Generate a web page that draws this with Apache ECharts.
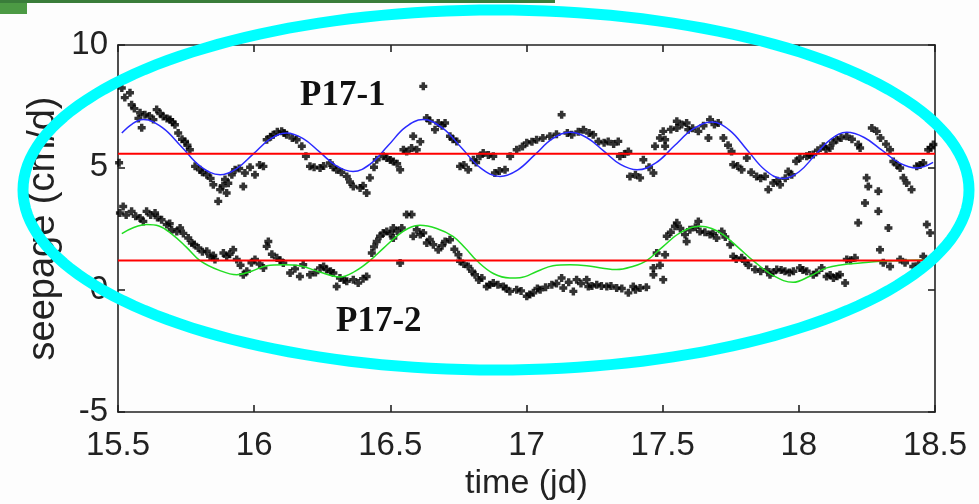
<!DOCTYPE html>
<html><head><meta charset="utf-8">
<script src="https://cdn.jsdelivr.net/npm/echarts@6/dist/echarts.min.js"></script>
<style>html,body{margin:0;padding:0;background:#fdfdfd}#c{width:979px;height:504px}</style>
</head><body><div id="c"></div>
<script>
// ---- data ----
const xLabel = 'time (jd)';
const yLabel = 'seepage (cm/d)';
const seriesNames = ['P17-1', 'P17-2'];
const meanLevels = [5.56, 1.19];

const p171Points = [[15.504,5.19],[15.514,8.24],[15.544,8.05],[15.550,7.56],[15.581,7.23],[15.587,6.62],[15.599,7.15],[15.630,6.95],[15.642,7.36],[15.666,7.08],[15.691,6.95],[15.709,6.74],[15.721,6.40],[15.746,6.06],[15.764,5.72],[15.783,5.04],[15.801,4.90],[15.826,4.70],[15.850,4.29],[15.875,4.09],[15.868,3.61],[15.893,4.50],[15.899,3.95],[15.918,4.70],[15.930,4.90],[15.960,4.22],[15.966,4.77],[16.003,4.70],[16.034,5.04],[16.046,6.13],[16.070,6.33],[16.101,6.47],[16.119,6.33],[16.156,6.13],[16.175,5.86],[16.205,5.04],[16.242,4.97],[16.278,5.18],[16.303,4.90],[16.340,4.63],[16.364,4.22],[16.389,4.16],[16.413,3.95],[16.425,4.57],[16.450,5.31],[16.474,5.45],[16.487,5.38],[16.511,5.24],[16.536,4.90],[16.548,5.72],[16.578,5.79],[16.584,6.27],[16.597,5.72],[16.621,8.31],[16.634,7.02],[16.664,6.54],[16.676,6.81],[16.701,6.81],[16.719,6.27],[16.744,6.06],[16.756,5.04],[16.786,4.90],[16.805,5.31],[16.829,5.45],[16.841,5.59],[16.878,5.45],[16.884,4.77],[16.921,4.90],[16.964,5.72],[17.001,6.00],[17.037,6.13],[17.086,6.27],[17.129,7.15],[17.166,6.33],[17.209,6.54],[17.245,6.33],[17.264,6.06],[17.300,6.06],[17.337,6.06],[17.343,5.45],[17.374,5.65],[17.380,4.63],[17.417,4.57],[17.429,5.31],[17.466,4.77],[17.472,5.86],[17.502,6.47],[17.509,6.13],[17.552,6.88],[17.552,6.61],[17.509,5.86],[17.588,6.81],[17.594,6.54],[17.631,6.47],[17.674,6.95],[17.668,6.20],[17.704,6.81],[17.723,6.20],[17.753,5.65],[17.759,5.11],[17.790,4.90],[17.809,5.38],[17.845,4.63],[17.876,4.63],[17.888,4.09],[17.906,4.36],[17.931,4.29],[17.961,4.83],[17.974,4.70],[18.004,5.38],[18.029,5.45],[18.053,5.52],[18.090,5.86],[18.114,5.79],[18.139,6.13],[18.176,6.27],[18.218,5.93],[18.225,5.79],[18.268,6.61],[18.286,6.47],[18.335,5.72],[18.347,5.24],[18.372,4.97],[18.384,4.57],[18.396,4.36],[18.414,4.09],[18.433,5.04],[18.457,5.18],[18.475,5.72],[18.494,5.93],[18.249,4.57],[18.255,4.22],[18.243,3.54],[18.218,2.73],[18.292,3.20],[18.329,2.52],[18.470,2.66],[18.482,2.32],[18.292,4.02],
  [15.525,7.85],[15.560,7.40],[15.575,7.00],[15.615,7.10],[15.655,7.20],[15.680,7.00],[15.700,6.85],[15.735,6.15],[15.755,5.90],[15.810,4.80],[15.840,4.55],[15.885,4.25],[15.905,4.35],[15.945,4.95],[15.985,5.00],[16.020,5.10],[16.060,6.25],[16.085,6.45],[16.110,6.40],[16.140,6.20],[16.190,5.45],[16.220,5.00],[16.255,5.05],[16.290,5.00],[16.320,4.80],[16.352,4.40],[16.400,4.25],[16.440,5.00],[16.500,5.30],[16.525,5.15],[16.560,5.65],[16.610,6.05],[16.645,6.90],[16.690,6.70],[16.730,6.15],[16.770,5.10],[16.815,5.20],[16.860,5.50],[16.900,4.85],[16.940,5.45],[16.985,5.85],[17.020,6.05],[17.060,6.20],[17.110,6.35],[17.150,6.40],[17.190,6.45],[17.230,6.40],[17.285,6.00],[17.320,5.95],[17.360,5.55],[17.400,4.70],[17.450,5.00],[17.490,6.20],[17.530,6.55],[17.570,6.75],[17.610,6.60],[17.650,6.70],[17.690,6.75],[17.740,5.90],[17.775,5.05],[17.825,4.80],[17.860,4.55],[17.920,4.45],[17.950,4.55],[17.990,5.25],[18.040,5.50],[18.070,5.70],[18.100,5.75],[18.125,6.00],[18.155,6.20],[18.195,6.15],[18.300,6.20],[18.320,5.95],[18.360,5.10],[18.445,5.10],[18.485,5.80]];

const p172Points = [[15.507,3.13],[15.519,3.40],[15.550,3.20],[15.581,2.93],[15.593,2.79],[15.605,3.20],[15.636,3.13],[15.660,2.86],[15.679,2.66],[15.697,2.45],[15.716,2.38],[15.728,2.52],[15.758,2.11],[15.771,1.91],[15.795,1.70],[15.826,1.57],[15.838,1.36],[15.856,1.23],[15.887,1.50],[15.899,1.36],[15.923,1.63],[15.936,1.23],[15.960,0.61],[15.973,0.75],[16.003,1.23],[16.034,0.89],[16.052,1.97],[16.046,1.77],[16.083,1.30],[16.107,1.09],[16.132,0.68],[16.168,0.54],[16.180,1.02],[16.205,0.61],[16.242,0.89],[16.266,0.82],[16.291,0.68],[16.303,0.13],[16.315,0.48],[16.340,0.34],[16.364,0.41],[16.382,0.27],[16.413,0.54],[16.432,1.50],[16.450,1.97],[16.462,2.18],[16.487,2.38],[16.511,2.52],[16.474,2.32],[16.511,2.11],[16.542,2.52],[16.560,3.07],[16.578,3.07],[16.584,2.18],[16.597,2.45],[16.621,2.32],[16.634,1.91],[16.658,1.84],[16.676,1.63],[16.701,1.97],[16.719,2.04],[16.536,1.09],[16.750,1.43],[16.756,1.16],[16.786,0.95],[16.811,0.61],[16.836,0.48],[16.854,0.13],[16.878,0.27],[16.915,0.13],[16.939,-0.07],[16.964,0.00],[17.001,-0.27],[17.025,-0.13],[17.050,0.00],[17.093,0.20],[17.129,0.48],[17.135,0.07],[17.172,-0.07],[17.184,0.41],[17.221,0.41],[17.227,0.13],[17.258,0.20],[17.295,0.13],[17.331,0.07],[17.374,-0.13],[17.392,0.13],[17.417,0.07],[17.466,0.61],[17.466,0.89],[17.502,0.41],[17.478,1.50],[17.509,1.43],[17.515,2.18],[17.545,2.59],[17.552,2.73],[17.582,2.25],[17.588,1.97],[17.631,2.79],[17.637,2.38],[17.674,2.25],[17.698,2.11],[17.717,2.38],[17.748,1.84],[17.759,1.36],[17.790,1.30],[17.802,1.16],[17.839,0.82],[17.882,0.82],[17.894,0.61],[17.919,0.82],[17.949,0.75],[17.980,0.75],[18.004,0.89],[18.029,0.75],[18.053,0.61],[18.084,0.89],[18.102,0.54],[18.127,0.48],[18.151,0.61],[18.170,0.27],[18.176,1.23],[18.206,1.30],[18.298,1.63],[18.335,0.95],[18.372,1.23],[18.420,0.95],[18.457,1.36],
  [15.530,3.05],[15.565,3.00],[15.620,3.05],[15.645,2.95],[15.690,2.70],[15.740,2.30],[15.780,1.85],[15.810,1.55],[15.850,1.40],[15.910,1.45],[15.950,1.00],[15.990,1.10],[16.020,1.05],[16.065,1.45],[16.095,1.20],[16.150,0.85],[16.225,0.70],[16.255,0.95],[16.280,0.75],[16.330,0.40],[16.400,0.45],[16.440,1.75],[16.500,2.30],[16.525,2.40],[16.610,2.25],[16.645,2.05],[16.690,1.80],[16.735,1.65],[16.770,1.05],[16.800,0.75],[16.825,0.40],[16.865,0.20],[16.895,0.20],[16.925,0.05],[16.980,-0.05],[17.012,-0.20],[17.040,0.05],[17.070,0.10],[17.110,0.25],[17.155,0.30],[17.200,0.25],[17.240,0.15],[17.275,0.15],[17.310,0.15],[17.350,0.05],[17.400,0.00],[17.440,0.10],[17.490,1.00],[17.530,2.35],[17.565,2.50],[17.600,2.45],[17.620,2.55],[17.655,2.35],[17.685,2.30],[17.730,2.15],[17.770,1.25],[17.815,1.00],[17.860,0.75],[17.905,0.70],[17.935,0.80],[17.965,0.70],[18.015,0.80],[18.065,0.70],[18.115,0.60],[18.140,0.55],[18.190,1.20],[18.310,1.10],[18.390,1.10],[18.440,1.05]];

const p171Fit = [[15.514,6.40],[15.553,6.78],[15.593,6.95],[15.663,6.62],[15.734,5.83],[15.804,5.03],[15.875,4.70],[15.936,4.95],[15.997,5.55],[16.058,6.15],[16.119,6.40],[16.180,6.17],[16.241,5.62],[16.302,5.06],[16.363,4.83],[16.427,5.14],[16.492,5.89],[16.556,6.64],[16.620,6.95],[16.691,6.61],[16.762,5.79],[16.832,4.97],[16.903,4.63],[16.967,4.89],[17.032,5.53],[17.096,6.17],[17.160,6.43],[17.222,6.21],[17.283,5.67],[17.345,5.12],[17.406,4.90],[17.475,5.18],[17.543,5.88],[17.612,6.57],[17.680,6.85],[17.746,6.51],[17.811,5.70],[17.877,4.88],[17.942,4.54],[18.001,4.82],[18.059,5.49],[18.118,6.15],[18.176,6.43],[18.240,6.22],[18.305,5.70],[18.369,5.18],[18.433,4.97],[18.493,5.20]];

const p172Fit = [[15.514,2.29],[15.560,2.55],[15.605,2.66],[15.650,2.60],[15.700,2.25],[15.750,1.75],[15.801,1.19],[15.870,0.80],[15.936,0.61],[15.990,0.75],[16.046,0.98],[16.107,1.02],[16.168,0.98],[16.240,0.72],[16.315,0.52],[16.370,0.75],[16.425,1.19],[16.475,1.70],[16.523,2.18],[16.565,2.50],[16.609,2.63],[16.670,2.50],[16.730,2.18],[16.775,1.70],[16.817,1.19],[16.880,0.65],[16.939,0.48],[16.976,0.49],[17.040,0.75],[17.097,0.98],[17.160,1.02],[17.221,0.98],[17.280,0.88],[17.331,0.82],[17.390,0.95],[17.441,1.19],[17.500,1.75],[17.564,2.32],[17.637,2.59],[17.680,2.50],[17.722,2.25],[17.780,1.70],[17.832,1.19],[17.910,0.55],[17.979,0.30],[18.040,0.55],[18.102,0.89],[18.160,1.02],[18.225,1.09],[18.300,1.16],[18.372,1.19],[18.493,1.22]];

const xMin = 15.5, xMax = 18.5, xStep = 0.5;
const yMin = -5, yMax = 10, yStep = 5;

// ---- chart ----
const chart = echarts.init(document.getElementById('c'), null, {renderer: 'canvas'});
const plus = 'path://M2,0H5V2H7V5H5V7H2V5H0V2H2Z';
const axisFont = {fontFamily: 'Liberation Sans, Arial, sans-serif', fontSize: 33, color: '#222'};
const axisLineStyle = {color: '#222', width: 1.6};

function hLine(v) { return [[xMin, v], [xMax, v]]; }

// ellipse annotation outline
const ell = {cx: 496, cy: 190, rx: 473, ry: 180};
const ellPts = [];
for (let i = 0; i < 180; i++) {
  const t = i / 180 * Math.PI * 2;
  ellPts.push([ell.cx + ell.rx * Math.cos(t), ell.cy + ell.ry * Math.sin(t)]);
}

chart.setOption({
  backgroundColor: '#fdfdfd',
  animation: false,
  grid: {left: 118, right: 44, top: 45, bottom: 92, containLabel: false, outerBoundsMode: 'none'},
  xAxis: [
    {type: 'value', min: xMin, max: xMax, interval: xStep, position: 'bottom',
     name: xLabel, nameLocation: 'middle', nameGap: 55, nameMoveOverlap: false,
     nameTextStyle: {fontFamily: 'Liberation Sans, Arial, sans-serif', fontSize: 34, color: '#222'},
     axisLine: {show: true, onZero: false, lineStyle: axisLineStyle},
     axisTick: {show: true, inside: true, length: 7, lineStyle: axisLineStyle},
     axisLabel: Object.assign({margin: 17, showMinLabel: true, showMaxLabel: true}, axisFont),
     splitLine: {show: false}},
    {type: 'value', min: xMin, max: xMax, interval: xStep, position: 'top',
     axisLine: {show: true, onZero: false, lineStyle: axisLineStyle},
     axisTick: {show: true, inside: true, length: 7, lineStyle: axisLineStyle},
     axisLabel: {show: false}, splitLine: {show: false}}
  ],
  yAxis: [
    {type: 'value', min: yMin, max: yMax, interval: yStep, position: 'left',
     name: yLabel, nameLocation: 'middle', nameGap: 55, nameRotate: 90, nameMoveOverlap: false,
     nameTextStyle: {fontFamily: 'Liberation Sans, Arial, sans-serif', fontSize: 38, color: '#222'},
     axisLine: {show: true, onZero: false, lineStyle: axisLineStyle},
     axisTick: {show: true, inside: true, length: 7, lineStyle: axisLineStyle},
     axisLabel: Object.assign({margin: 10}, axisFont),
     splitLine: {show: false}},
    {type: 'value', min: yMin, max: yMax, interval: yStep, position: 'right',
     axisLine: {show: true, onZero: false, lineStyle: axisLineStyle},
     axisTick: {show: true, inside: true, length: 7, lineStyle: axisLineStyle},
     axisLabel: {show: false}, splitLine: {show: false}}
  ],
  series: [
    {name: seriesNames[0] + ' data', type: 'scatter', data: p171Points, symbol: plus, symbolSize: 8,
     itemStyle: {color: '#000'}, z: 3},
    {name: seriesNames[1] + ' data', type: 'scatter', data: p172Points, symbol: plus, symbolSize: 8,
     itemStyle: {color: '#000'}, z: 3},
    {name: seriesNames[0] + ' fit', type: 'line', data: p171Fit, smooth: 0.4, showSymbol: false,
     lineStyle: {color: '#2a2aff', width: 1.5}, z: 4},
    {name: seriesNames[1] + ' fit', type: 'line', data: p172Fit, smooth: 0.4, showSymbol: false,
     lineStyle: {color: '#22dd22', width: 1.5}, z: 4},
    {name: seriesNames[0] + ' mean', type: 'line', data: hLine(meanLevels[0]), showSymbol: false,
     lineStyle: {color: '#ff0000', width: 2}, z: 5},
    {name: seriesNames[1] + ' mean', type: 'line', data: hLine(meanLevels[1]), showSymbol: false,
     lineStyle: {color: '#ff0000', width: 2}, z: 5}
  ],
  graphic: [
    {type: 'rect', left: 0, top: 0, shape: {width: 555, height: 3}, style: {fill: '#3a7d3a'}, z: 10},
    {type: 'rect', left: 0, top: 3, shape: {width: 27, height: 11}, style: {fill: '#4c9a44'}, z: 10},
    {type: 'text', left: 300, top: 78, z: 10,
     style: {text: seriesNames[0], font: 'bold 35px "Liberation Serif", "Times New Roman", serif', fill: '#111'}},
    {type: 'text', left: 336, top: 304, z: 10,
     style: {text: seriesNames[1], font: 'bold 35px "Liberation Serif", "Times New Roman", serif', fill: '#111'}},
    {type: 'polygon', z: 20, shape: {points: ellPts, smooth: 0},
     style: {fill: 'none', stroke: '#00ffff', lineWidth: 11}}
  ]
});
</script>
</body></html>
